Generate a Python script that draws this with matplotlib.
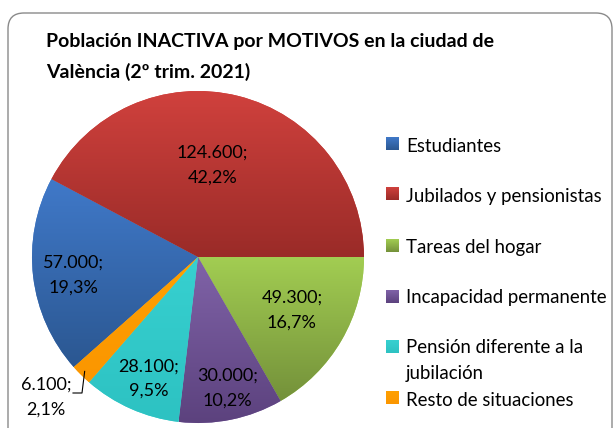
import numpy as np
import matplotlib
matplotlib.use("Agg")
import matplotlib.pyplot as plt
from matplotlib.colors import LinearSegmentedColormap
from matplotlib.patches import FancyBboxPatch

# Datos: población inactiva por motivos, València 2º trim. 2021
categorias = ["Estudiantes", "Jubilados y pensionistas", "Tareas del hogar",
              "Incapacidad permanente", "Pensión diferente a la\njubilación",
              "Resto de situaciones"]
valores = [57000, 124600, 49300, 30000, 28100, 6100]
porcentajes = ["19,3%", "42,2%", "16,7%", "10,2%", "9,5%", "2,1%"]
etiquetas_valor = ["57.000;", "124.600;", "49.300;", "30.000;", "28.100;", "6.100;"]
titulo = "Población INACTIVA por MOTIVOS en la ciudad de\nValència (2º trim. 2021)"

# colores degradados (arriba, abajo) estilo Excel
colores = [("#4079c9", "#2b5791"), ("#d0413d", "#9a2b28"), ("#a2cd52", "#74913a"),
           ("#8063a8", "#5c427e"), ("#37d0d0", "#2dc2c2"), ("#ffa000", "#fb9600")]
# posición de etiquetas: fracción del radio y ajuste de ángulo (grados)
dist_etiqueta = [0.76, 0.56, 0.65, 0.81, 0.79, None]
ajuste_ang = [1.4, 5.0, 0.5, 1.0, 1.7, 0.0]

FONT = "Lato"
W, H = 614, 428
fig = plt.figure(figsize=(W / 100, H / 100), dpi=100)

# lienzo de fondo en coordenadas de pixel
bg = fig.add_axes([0, 0, 1, 1])
bg.set_xlim(0, W)
bg.set_ylim(H, 0)
bg.axis("off")
bg.add_patch(FancyBboxPatch((8, 13), 604, 440, boxstyle="round,pad=0,rounding_size=16",
                            fc="white", ec="#8a8a8a", lw=1.0))

bg.text(46, 78, titulo, fontsize=14, fontweight="bold", family=FONT,
        va="baseline", ha="left", linespacing=1.85, color="black")


def degradado(ax, extent, top, bottom, clip=None, z=2):
    cmap = LinearSegmentedColormap.from_list("g", [bottom, top])
    grad = np.linspace(0, 1, 128).reshape(-1, 1)
    im = ax.imshow(grad, cmap=cmap, extent=extent, origin="lower",
                   aspect="auto", zorder=z, interpolation="bilinear")
    if clip is not None:
        im.set_clip_path(clip)
    return im


# leyenda manual (y = centro de la última línea de texto)
ley_y = [145, 195, 246, 297, 373, 400]
caja_y = [144, 194, 246, 297, 347, 398]
for cat, (top, bot), y, yc in zip(categorias, colores, ley_y, caja_y):
    degradado(bg, [386, 399, yc + 6, yc - 7], top, bot, z=3)
    bg.text(406, y + 6.5, cat, fontsize=13.4, family=FONT, va="baseline",
            ha="left", color="black", linespacing=1.65)

bg.set_xlim(0, W)
bg.set_ylim(H, 0)

# pastel
cx, cy, r = 198, 257, 166
ax = fig.add_axes([(cx - r) / W, (H - cy - r) / H, 2 * r / W, 2 * r / H])
total = sum(valores)
ang_ini = 360 - 360 * sum(valores[2:]) / total  # Estudiantes empieza tras Resto
wedges, _ = ax.pie(valores, startangle=ang_ini, counterclock=False,
                   colors=[c[0] for c in colores], wedgeprops=dict(lw=0))
for w, (top, bot) in zip(wedges, colores):
    b = w.get_path().get_extents()
    degradado(ax, [b.x0, b.x1, b.y0, b.y1], top, bot, clip=w)
ax.set_xlim(-1, 1)
ax.set_ylim(-1, 1)
ax.axis("off")

for w, et, pc, d, da in zip(wedges, etiquetas_valor, porcentajes, dist_etiqueta, ajuste_ang):
    mid = np.deg2rad((w.theta1 + w.theta2) / 2 + da)
    if d is not None:
        ax.text(d * np.cos(mid), d * np.sin(mid), et + "\n" + pc, fontsize=13,
                family=FONT, ha="center", va="center", linespacing=1.65, zorder=5)
    else:
        # etiqueta exterior con línea guía
        px = lambda x, y: ((x - cx) / r, (cy - y) / r)
        x0, y0 = 0.97 * np.cos(mid), 0.97 * np.sin(mid)
        x1, y1 = px(82, 393)
        x2, y2 = px(73, 393)
        ax.plot([x0, x1, x2], [y0, y1, y2], color="black", lw=0.8, zorder=5,
                clip_on=False)
        tx, ty = px(46, 397)
        ax.text(tx, ty, et + "\n" + pc, fontsize=13, family=FONT, ha="center",
                va="center", linespacing=1.65, zorder=5)

fig.savefig("out.png", dpi=100)
